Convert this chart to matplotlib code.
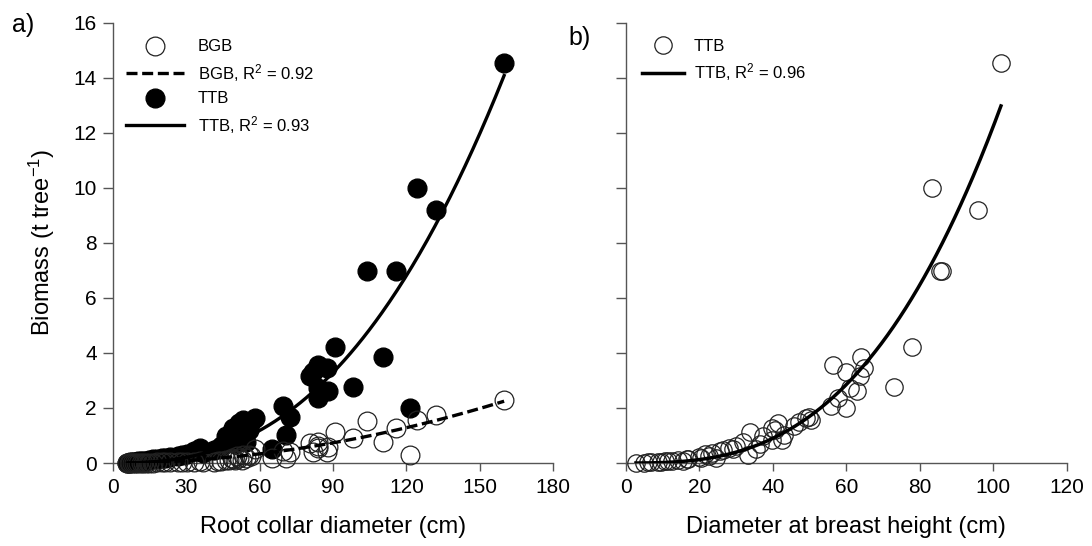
import numpy as np
import matplotlib
matplotlib.use("Agg")
import matplotlib.pyplot as plt
from matplotlib.lines import Line2D

plt.rcParams["font.family"] = ["Liberation Sans", "DejaVu Sans"]
plt.rcParams["mathtext.default"] = "regular"

# tree data: root collar diameter, dbh, total tree biomass, below-ground biomass
rcd = [159.9, 124.5, 132.1, 103.8, 115.8, 90.9, 110.6, 84.0, 87.5, 82.0,
       80.6, 98.3, 84.0, 88.1, 84.0, 69.7, 121.3, 72.5, 58.2, 53.4,
       56.5, 51.5, 50.8, 49.3, 55.5, 48.6, 70.8, 46.4, 47.5, 53.0,
       54.4, 50.0, 44.2, 35.5, 65.0, 43.0, 41.3, 33.2, 37.0, 30.2,
       28.5, 26.6, 23.5, 21.5, 20.0, 18.0, 16.4, 15.0, 13.5, 12.5,
       11.5, 10.5, 9.5, 8.5, 7.8, 7.2, 6.5, 6.0]
dbh = [102.1, 83.3, 95.9, 85.5, 86.0, 77.9, 63.9, 56.3, 64.9, 59.8,
       63.7, 73.0, 60.9, 63.0, 57.7, 55.9, 60.0, 49.8, 48.9, 50.5,
       47.0, 41.5, 45.7, 39.7, 40.5, 33.7, 43.0, 37.4, 42.5, 39.7,
       31.8, 36.5, 30.0, 28.1, 29.0, 35.5, 26.3, 25.5, 23.5, 21.6,
       33.2, 22.5, 19.8, 20.5, 24.4, 17.0, 16.5, 14.2, 15.5, 11.5,
       12.5, 10.5, 8.7, 9.5, 6.8, 6.0, 5.0, 2.7]
ttb = [14.55, 10.0, 9.19, 6.96, 6.96, 4.2, 3.85, 3.56, 3.46, 3.3,
       3.16, 2.76, 2.72, 2.6, 2.38, 2.08, 1.99, 1.68, 1.62, 1.57,
       1.5, 1.45, 1.36, 1.28, 1.2, 1.12, 1.0, 0.97, 0.85, 0.84,
       0.75, 0.7, 0.62, 0.55, 0.52, 0.5, 0.48, 0.42, 0.38, 0.34,
       0.3, 0.26, 0.22, 0.2, 0.17, 0.15, 0.13, 0.11, 0.09, 0.08,
       0.07, 0.06, 0.05, 0.04, 0.03, 0.02, 0.01, 0.0]
bgb = [2.29, 1.56, 1.74, 1.52, 1.26, 1.14, 0.77, 0.53, 0.41, 0.41,
       0.72, 0.9, 0.77, 0.59, 0.6, 0.45, 0.29, 0.41, 0.5, 0.3,
       0.25, 0.2, 0.25, 0.15, 0.3, 0.2, 0.17, 0.12, 0.1, 0.1,
       0.17, 0.12, 0.08, 0.06, 0.17, 0.07, 0.05, 0.05, 0.05, 0.04,
       0.04, 0.03, 0.03, 0.02, 0.02, 0.02, 0.01, 0.01, 0.01, 0.01,
       0.0, 0.0, 0.0, 0.0, 0.0, 0.0, 0.0, 0.0]

# fitted power models  y = a * D^b
fit_ttb_rcd = (3.74e-5, 2.53)
fit_bgb_rcd = (1.132e-4, 1.95)
fit_ttb_dbh = (2.44e-5, 2.85)

yticks = [0, 2, 4, 6, 8, 10, 12, 14, 16]

fig = plt.figure(figsize=(10.92, 5.46), dpi=100)
ax1 = fig.add_axes([0.1032, 0.152, 0.4035, 0.8064])
ax2 = fig.add_axes([0.5733, 0.152, 0.4035, 0.8064])

spine_col = "#555555"
for ax in (ax1, ax2):
    for s in ("top", "right"):
        ax.spines[s].set_visible(False)
    for s in ("left", "bottom"):
        ax.spines[s].set_color(spine_col)
        ax.spines[s].set_linewidth(1.0)
    ax.set_ylim(0, 16)
    ax.set_yticks(yticks)
    ax.tick_params(axis="y", direction="out", length=7, width=1, color=spine_col,
                   labelsize=15, pad=4.5)
    ax.tick_params(axis="x", direction="out", length=5.5, width=1, color=spine_col,
                   labelsize=15, pad=5)

ms = 13.5
# panel a
d = np.linspace(min(rcd), max(rcd), 300)
ax1.plot(rcd, ttb, "o", ms=ms, color="black", mec="black", clip_on=False, zorder=3)
ax1.plot(rcd, bgb, "o", ms=ms, mfc="none", mec="#222222", mew=0.9, clip_on=False, zorder=3)
ax1.plot(d, fit_bgb_rcd[0] * d ** fit_bgb_rcd[1], color="black", lw=2.4,
         dashes=(3.3, 1.4), zorder=4)
ax1.plot(d, fit_ttb_rcd[0] * d ** fit_ttb_rcd[1], color="black", lw=2.4, zorder=4)
ax1.set_xlim(0, 180)
ax1.set_xticks([0, 30, 60, 90, 120, 150, 180])
ax1.set_xlabel("Root collar diameter (cm)", fontsize=17, labelpad=14)
ax1.set_ylabel("Biomass (t tree$^{-1}$)", fontsize=17, labelpad=12)

h_a = [Line2D([], [], ls="none", marker="o", ms=ms, mfc="none", mec="#222222", mew=0.9),
       Line2D([], [], color="black", lw=2.4, dashes=(3.3, 1.4)),
       Line2D([], [], ls="none", marker="o", ms=ms, color="black"),
       Line2D([], [], color="black", lw=2.4)]
l_a = ["BGB", "BGB, R$^2$ = 0.92", "TTB", "TTB, R$^2$ = 0.93"]
ax1.legend(h_a, l_a, loc="upper left", bbox_to_anchor=(0.03, 0.962), frameon=False,
           fontsize=12, handlelength=3.5, handletextpad=0.8, labelspacing=0.45,
           borderpad=0, borderaxespad=0)

# panel b
d2 = np.linspace(min(dbh), max(dbh), 300)
ax2.plot(dbh, ttb, "o", ms=ms - 1, mfc="none", mec="#222222", mew=0.9, clip_on=False, zorder=3)
ax2.plot(d2, fit_ttb_dbh[0] * d2 ** fit_ttb_dbh[1], color="black", lw=2.5, zorder=4)
ax2.set_xlim(0, 120)
ax2.set_xticks([0, 20, 40, 60, 80, 100, 120])
ax2.set_yticklabels([])
ax2.set_xlabel("Diameter at breast height (cm)", fontsize=17, labelpad=14)

h_b = [Line2D([], [], ls="none", marker="o", ms=ms - 1, mfc="none", mec="#222222", mew=0.9),
       Line2D([], [], color="black", lw=2.5)]
l_b = ["TTB", "TTB, R$^2$ = 0.96"]
ax2.legend(h_b, l_b, loc="upper left", bbox_to_anchor=(0.036, 0.964), frameon=False,
           fontsize=12, handlelength=2.5, handletextpad=0.6, labelspacing=0.45,
           borderpad=0, borderaxespad=0)

fig.text(0.011, 0.955, "a)", fontsize=18, va="center")
fig.text(0.521, 0.93, "b)", fontsize=18, va="center")

fig.savefig("out.png", dpi=100)
